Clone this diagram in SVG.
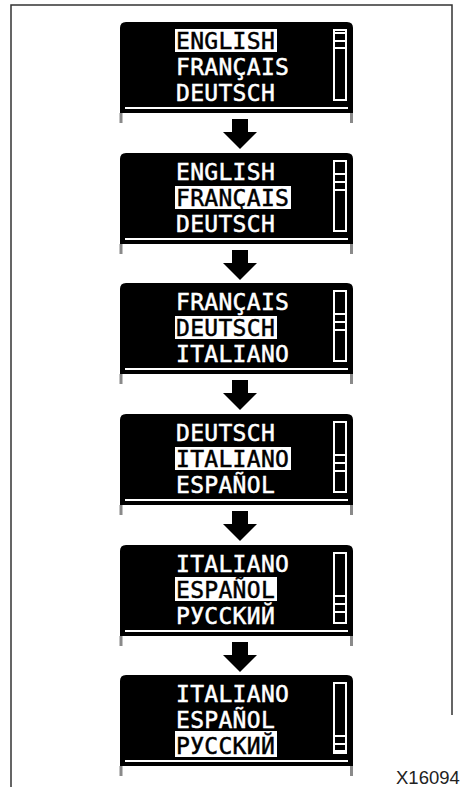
<svg xmlns="http://www.w3.org/2000/svg" width="460" height="787" viewBox="0 0 460 787">
<style>
.frame{fill:none;stroke:#333;stroke-width:1.5}
.scr{fill:#000}
.tick{fill:#8a8a8a}
.bline{fill:#fff}
.sb{fill:none;stroke:#fff;stroke-width:2}
.th{fill:#fff}
.t{font-family:"DejaVu Sans Mono","Liberation Mono",monospace;font-size:23px;letter-spacing:0.3px;fill:#fff;stroke:#fff;stroke-width:0.5}
.t.sel{fill:#000;stroke:#000}
.hl{fill:#fff}
.arrow{fill:#000}
.lbl{font-family:"Liberation Sans",Arial,sans-serif;font-size:18.5px;fill:#222}
</style>
<defs>
<g id="bezel">
<path class="scr" d="M120 6 Q120 0 126 0 H347 Q353 0 353 6 V91 H120 Z"/>
<rect class="bline" x="125" y="85" width="223" height="2"/>
<rect class="tick" x="119.5" y="91" width="3" height="10"/>
<rect class="tick" x="350" y="91" width="3" height="10"/>
<rect class="sb" x="334" y="8" width="12" height="70"/>
</g>
<path id="arr" d="M232 0 H248 V13 H257 L240 30 L223 13 H232 Z"/>
</defs>
<path class="frame" d="M11 787 V5 H452 V715"/>

<g id="connectors">
<use href="#arr" class="arrow" transform="translate(0,119)"/>
<use href="#arr" class="arrow" transform="translate(0,250)"/>
<use href="#arr" class="arrow" transform="translate(0,380)"/>
<use href="#arr" class="arrow" transform="translate(0,511)"/>
<use href="#arr" class="arrow" transform="translate(0,642)"/>
</g>

<g id="display1" transform="translate(0,22)">
<use href="#bezel"/>
<rect class="th" x="334" y="10" width="12" height="2"/><rect class="th" x="334" y="18" width="12" height="2"/><rect class="th" x="334" y="25" width="12" height="2"/>
<rect class="hl" x="175" y="7" width="102" height="23"/>
<text class="t sel" x="176" y="27">ENGLISH</text>
<text class="t" x="176" y="53">FRANÇAIS</text>
<text class="t" x="176" y="79">DEUTSCH</text>
</g>

<g id="display2" transform="translate(0,153)">
<use href="#bezel"/>
<rect class="th" x="334" y="20" width="12" height="2"/><rect class="th" x="334" y="28" width="12" height="2"/><rect class="th" x="334" y="36" width="12" height="2"/>
<rect class="hl" x="175" y="33" width="116" height="23"/>
<text class="t" x="176" y="27">ENGLISH</text>
<text class="t sel" x="176" y="53">FRANÇAIS</text>
<text class="t" x="176" y="79">DEUTSCH</text>
</g>

<g id="display3" transform="translate(0,283)">
<use href="#bezel"/>
<rect class="th" x="334" y="30" width="12" height="2"/><rect class="th" x="334" y="38" width="12" height="2"/><rect class="th" x="334" y="46" width="12" height="2"/>
<rect class="hl" x="175" y="33" width="102" height="23"/>
<text class="t" x="176" y="27">FRANÇAIS</text>
<text class="t sel" x="176" y="53">DEUTSCH</text>
<text class="t" x="176" y="79">ITALIANO</text>
</g>

<g id="display4" transform="translate(0,414)">
<use href="#bezel"/>
<rect class="th" x="334" y="40" width="12" height="2"/><rect class="th" x="334" y="48" width="12" height="2"/><rect class="th" x="334" y="56" width="12" height="2"/>
<rect class="hl" x="175" y="33" width="116" height="23"/>
<text class="t" x="176" y="27">DEUTSCH</text>
<text class="t sel" x="176" y="53">ITALIANO</text>
<text class="t" x="176" y="79">ESPAÑOL</text>
</g>

<g id="display5" transform="translate(0,545)">
<use href="#bezel"/>
<rect class="th" x="334" y="50" width="12" height="2"/><rect class="th" x="334" y="58" width="12" height="2"/><rect class="th" x="334" y="66" width="12" height="2"/>
<rect class="hl" x="175" y="32" width="102" height="24"/>
<text class="t" x="176" y="27">ITALIANO</text>
<text class="t sel" x="176" y="53">ESPAÑOL</text>
<text class="t" x="176" y="79">РУССКИЙ</text>
</g>

<g id="display6" transform="translate(0,675)">
<use href="#bezel"/>
<rect class="th" x="334" y="60" width="12" height="2"/><rect class="th" x="334" y="68" width="12" height="2"/><rect class="th" x="334" y="75" width="12" height="2"/>
<rect class="hl" x="175" y="56" width="102" height="26"/>
<text class="t" x="176" y="27">ITALIANO</text>
<text class="t" x="176" y="53">ESPAÑOL</text>
<text class="t sel" x="176" y="79">РУССКИЙ</text>
</g>

<text class="lbl" x="396" y="784">X16094</text>
</svg>
